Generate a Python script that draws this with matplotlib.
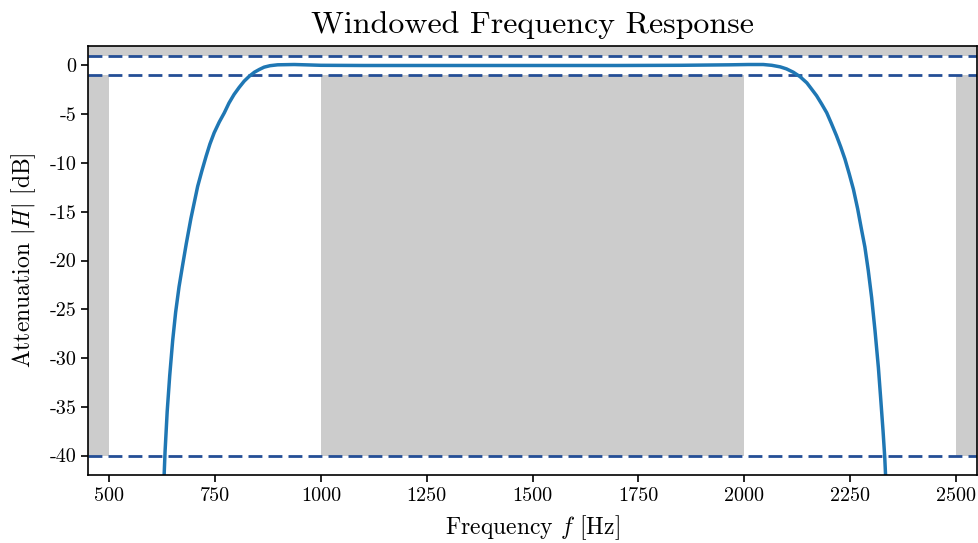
import matplotlib
matplotlib.use("Agg")
import matplotlib.pyplot as plt
from matplotlib.ticker import FixedLocator, FixedFormatter

plt.rcParams['font.family'] = 'serif'
plt.rcParams['font.serif'] = ['cmr10']
plt.rcParams['mathtext.fontset'] = 'cm'
plt.rcParams['axes.unicode_minus'] = False
plt.rcParams['axes.formatter.use_mathtext'] = True

# response (Hz, dB)
freq = [628, 632, 637, 643, 650, 657, 665, 673, 682, 693, 709, 719, 729, 738,
        748, 760, 772, 783, 795, 807, 819, 831, 843, 855, 866, 880, 898, 937,
        970, 1000, 1100, 1250, 1480, 1700, 1850, 1967, 2010, 2045, 2065, 2085,
        2100, 2116, 2132, 2148, 2158, 2171, 2183, 2195, 2206, 2218, 2228, 2238,
        2248, 2258, 2268, 2277, 2285, 2293, 2301, 2309, 2317, 2323, 2328, 2332,
        2336]
gain_db = [-44, -39.6, -35.5, -31.8, -28.2, -25.3, -22.7, -20.6, -18.3, -15.7,
           -12.4, -10.8, -9.3, -8.05, -6.9, -5.8, -4.85, -3.85, -2.97, -2.25,
           -1.6, -1.1, -0.69, -0.4, -0.17, -0.02, 0.07, 0.1, 0.06, 0.02, 0.0,
           0.0, 0.0, 0.0, 0.02, 0.07, 0.1, 0.1, 0.02, -0.14, -0.35, -0.69,
           -1.15, -1.78, -2.35, -3.1, -3.95, -4.85, -5.95, -7.2, -8.35, -9.6,
           -11.1, -12.7, -14.7, -16.8, -18.6, -21.0, -23.8, -27.2, -31.0, -34.5,
           -37.5, -40.2, -44]

# spec limits
ripple_hi = 1
ripple_lo = -1
stop_att = -40
shaded_bands = [(450, 500), (1000, 2000), (2500, 2550)]

yticks = [0, -5, -10, -15, -20, -25, -30, -35, -40]
xticks = [500, 750, 1000, 1250, 1500, 1750, 2000, 2250, 2500]

fig = plt.figure(figsize=(9.79, 5.43), dpi=100)
ax = fig.add_axes([0.0899, 0.1252, 0.9081, 0.7901])

for a, b in shaded_bands:
    ax.fill_between([a, b], [stop_att, stop_att], [ripple_lo, ripple_lo],
                    color='#cccccc', lw=0)
ax.fill_between([450, 2550], [ripple_hi, ripple_hi], [3, 3], color='#cccccc', lw=0)

for lvl in [ripple_hi, ripple_lo, stop_att]:
    ax.axhline(lvl, color='#244e96', ls='--', lw=2, dashes=(5, 2.2))

ax.plot(freq, gain_db, color='#1f77b4', lw=2.5)

ax.set_xlim(450, 2550)
ax.set_ylim(-42, 2)
ax.yaxis.set_major_locator(FixedLocator(yticks))
ax.yaxis.set_major_formatter(FixedFormatter([str(t) for t in yticks]))
ax.xaxis.set_major_locator(FixedLocator(xticks))
ax.xaxis.set_major_formatter(FixedFormatter([str(t) for t in xticks]))
ax.tick_params(labelsize=14.5, length=5, width=1.2)
for s in ax.spines.values():
    s.set_linewidth(1.2)

ax.set_title('Windowed Frequency Response', fontsize=23, pad=9)
ax.set_xlabel('Frequency $f$ [Hz]', fontsize=17, labelpad=6)
ax.set_ylabel('Attenuation $|H|$ [dB]', fontsize=17, labelpad=8)

plt.savefig('out.png', dpi=100)
